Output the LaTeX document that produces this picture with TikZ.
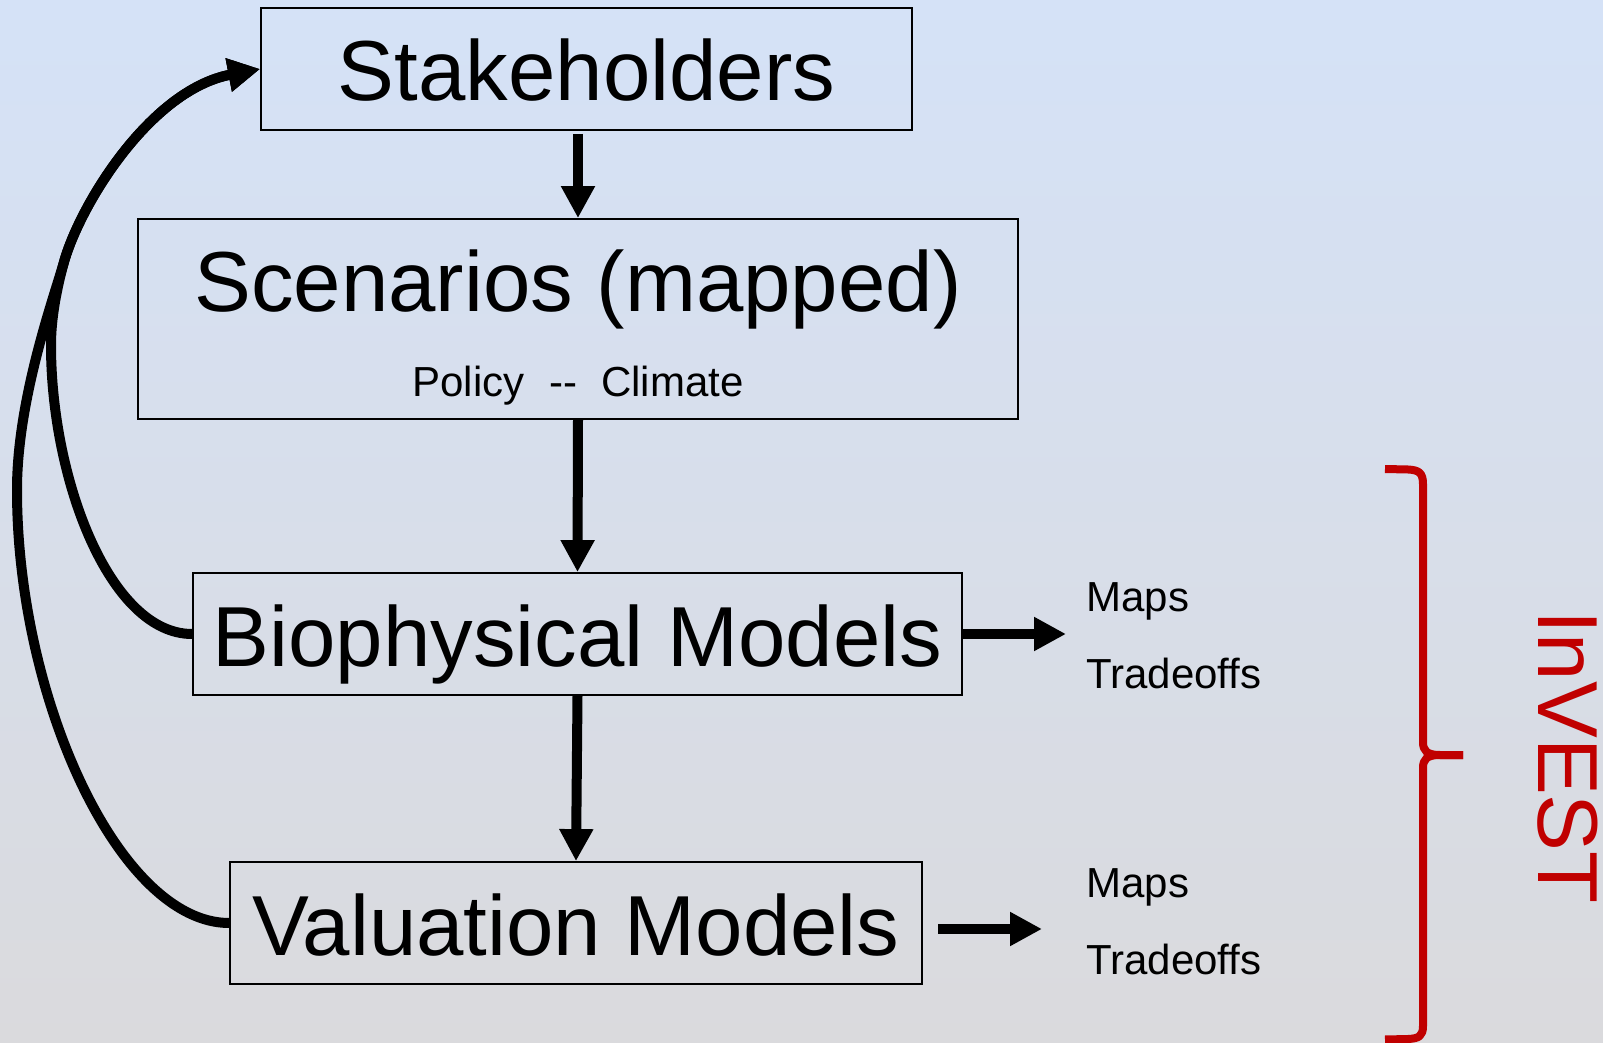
\documentclass[tikz,border=0pt]{standalone}
\usepackage{fontspec}
\setmainfont{Liberation Sans}
\usetikzlibrary{arrows.meta}

\definecolor{bgtop}{RGB}{213,226,247}
\definecolor{bgbot}{RGB}{218,218,221}
\definecolor{investred}{RGB}{192,0,0}

\newcommand\diagbig{\fontsize{42.6}{50}\selectfont}
\newcommand\diagsmall{\fontsize{21}{25}\selectfont}

\begin{document}
\begin{tikzpicture}[x=0.5pt,y=-0.5pt,
  box/.style={draw=black, line width=0.9pt, inner sep=0pt,
    text height=32pt, text depth=0pt, font=\diagbig},
  flow/.style={line width=5pt, -{Triangle[length=16pt,width=16pt]}},
  note/.style={anchor=base west, inner sep=0pt, font=\diagsmall},
  brace/.style={draw=investred, line width=4pt, line join=round},
]
% page and background gradient
\useasboundingbox (0,0) rectangle (1603,1043);
\shade[top color=bgtop, bottom color=bgbot] (0,0) rectangle (1603,1043);

% main boxes
\node[box, minimum width=325.5pt, minimum height=61pt] (stake) at (586.5,69) {Stakeholders};
\node[box, minimum width=440pt, minimum height=100pt, text height=0pt, text depth=7pt]
  (scen) at (578,319) {Scenarios (mapped)};
\node[anchor=base, inner sep=0pt, font=\diagsmall] (policy) at (578,397)
  {Policy\hspace{12.5pt}\mbox{-}\mbox{-}\hspace{12pt}Climate};
\node[box, minimum width=384.5pt, minimum height=61pt] (bio) at (577.5,634) {Biophysical Models};
\node[box, minimum width=346pt, minimum height=61pt] (val) at (576,923) {Valuation Models};

% outputs
\node[note] (maps1) at (1086,611) {Maps};
\node[note] (trade1) at (1086,688) {Tradeoffs};
\node[note] (maps2) at (1086,897) {Maps};
\node[note] (trade2) at (1086,974) {Tradeoffs};

% vertical flow
\draw[flow, shorten <=1.5pt] (stake.south -| scen.north) -- (scen.north);
\draw[flow] (scen.south) -- (bio.north);
\draw[flow] (bio.south) -- (val.north);

% arrows to the outputs
\coordinate (bioout) at (1066,634);
\coordinate (valfrom) at (938,929);
\coordinate (valto) at (1042,929);
\draw[flow] (bio.east) -- (bioout);
\draw[flow] (valfrom) -- (valto);

% feedback loops back to the stakeholders
\coordinate (merge) at (64,262);
\draw[flow] (bio.west) .. controls (110,634) and (51,480) .. (51,345)
  .. controls (51,320) and (56,291) .. (merge)
  .. controls (80,205) and (150,90) .. (stake.west);
\draw[flow] (val.west) .. controls (120,923) and (17,700) .. (17,490)
  .. controls (17,400) and (53,300) .. (merge)
  .. controls (80,205) and (150,90) .. (stake.west);

% InVEST brace
\draw[brace] (1385,469) -- (1408,469.5) .. controls (1419,470) and (1423,473) .. (1423,484)
  -- (1423,742) .. controls (1423,751) and (1427,755) .. (1440,755) -- (1463,755);
\draw[brace] (1463,755) -- (1440,755) .. controls (1427,755) and (1423,759) .. (1423,768)
  -- (1423,1026) .. controls (1423,1036) and (1419,1038.5) .. (1408,1039) -- (1385,1039.5);
\node[rotate=-90, anchor=base, inner sep=0pt, text=investred, font=\diagbig]
  (invest) at (1538,757) {InVEST};
\end{tikzpicture}
\end{document}
